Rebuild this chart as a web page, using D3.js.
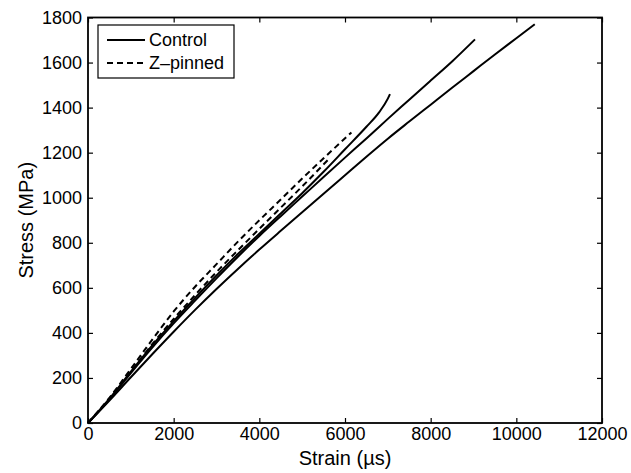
<!DOCTYPE html>
<html lang="en">
  <head>
    <meta charset="UTF-8" />
    <title>Stress vs strain</title>
    <script src="https://d3js.org/d3.v7.min.js"></script>
    <style>
      body { margin: 0; background: #fff; }
      text { font-family: "Liberation Sans", Arial, Helvetica, sans-serif; fill: #000; }
      .tick text { font-size: 18px; }
      .label { font-size: 20px; }
      .legend_text { font-size: 18px; }
    </style>
  </head>
  <body>
    <svg width="631" height="473"></svg>
    <script>
      // strain (microstrain), stress (MPa)
      const control1 = [[0,0],[500,100],[1000,203],[1500,305],[2000,405],[2500,502],[3000,595],[3500,684],[4000,770],[4500,853],[5000,935],[5500,1018],[6000,1100],[6500,1182],[7000,1262],[7500,1338],[8000,1413],[8500,1488],[9000,1562],[9500,1636],[10000,1708],[10430,1770]];
      const control2 = [[0,0],[500,105],[1000,222],[1500,335],[2000,442],[2500,543],[3000,642],[3500,738],[4000,830],[4500,918],[5000,1005],[5500,1092],[6000,1178],[6500,1263],[7000,1350],[7500,1435],[8000,1520],[8500,1605],[9035,1703]];
      const control3 = [[0,0],[500,108],[1000,228],[1500,345],[2000,452],[2500,555],[3000,655],[3500,750],[4000,840],[4500,930],[5000,1020],[5500,1115],[6000,1215],[6500,1315],[6800,1380],[7000,1440],[7050,1460]];
      const pinned1 = [[0,0],[500,112],[1000,240],[1500,370],[2000,495],[2500,605],[3000,705],[3500,805],[4000,900],[4500,992],[5000,1085],[5500,1175],[6150,1290]];
      const pinned2 = [[0,0],[500,108],[1000,228],[1500,350],[2000,462],[2500,568],[3000,670],[3500,767],[4000,862],[4500,956],[5000,1050],[5611,1170]];

      const xTicks = [0, 2000, 4000, 6000, 8000, 10000, 12000];
      const yTicks = [0, 200, 400, 600, 800, 1000, 1200, 1400, 1600, 1800];
      const legendNames = ["Control", "Z\u2013pinned"];

      const svg = d3.select("svg");
      const margin = { top: 17.5, right: 29, bottom: 50, left: 88 };
      const width = 631 - margin.left - margin.right,
        height = 473 - margin.top - margin.bottom;

      const g = svg.append("g").attr("transform", `translate(${margin.left},${margin.top})`);

      const x = d3.scaleLinear().domain([0, 12000]).range([0, width]);
      const y = d3.scaleLinear().domain([0, 1800]).range([height, 0]);

      // axes, ticks pointing inwards on all four sides
      const fmt = d3.format("d");
      g.append("g").attr("transform", `translate(0,${height})`)
        .call(d3.axisBottom(x).tickValues(xTicks).tickFormat(fmt).tickSize(-5).tickPadding(4));
      g.append("g")
        .call(d3.axisTop(x).tickValues(xTicks).tickFormat("").tickSize(-5));
      g.append("g")
        .call(d3.axisLeft(y).tickValues(yTicks).tickFormat(fmt).tickSize(-5).tickPadding(6));
      g.append("g").attr("transform", `translate(${width},0)`)
        .call(d3.axisRight(y).tickValues(yTicks).tickFormat("").tickSize(-5));
      g.selectAll(".domain").remove();
      g.selectAll(".tick line").attr("stroke", "#000").attr("stroke-width", 1.2);

      g.append("rect")
        .attr("width", width).attr("height", height)
        .attr("fill", "none").attr("stroke", "#000").attr("stroke-width", 1.8);

      // curves
      const line = d3.line()
        .x(d => x(d[0]))
        .y(d => y(d[1]))
        .curve(d3.curveMonotoneX);

      const series = [
        { data: control1, dash: null },
        { data: control2, dash: null },
        { data: control3, dash: null },
        { data: pinned1, dash: "6,4" },
        { data: pinned2, dash: "6,4" }
      ];
      g.selectAll(".curve").data(series).enter().append("path")
        .attr("class", "curve")
        .attr("d", d => line(d.data))
        .attr("fill", "none")
        .attr("stroke", "#000")
        .attr("stroke-width", 2)
        .attr("stroke-dasharray", d => d.dash);

      // legend
      const lg = svg.append("g").attr("transform", "translate(98,25)");
      lg.append("rect").attr("width", 136).attr("height", 53)
        .attr("fill", "#fff").attr("stroke", "#000").attr("stroke-width", 1.2);
      legendNames.forEach(function (name, i) {
        const yy = 15 + i * 23;
        lg.append("line").attr("x1", 9).attr("x2", 47).attr("y1", yy).attr("y2", yy)
          .attr("stroke", "#000").attr("stroke-width", 1.8)
          .attr("stroke-dasharray", i === 1 ? "6,4" : null);
        lg.append("text").attr("class", "legend_text")
          .attr("x", 51).attr("y", yy).attr("dy", "0.35em").text(name);
      });

      // axis labels
      svg.append("text").attr("class", "label")
        .attr("x", margin.left + width / 2).attr("y", 465)
        .attr("text-anchor", "middle").text("Strain (\u00b5s)");
      svg.append("text").attr("class", "label")
        .attr("transform", `translate(33,${margin.top + height / 2}) rotate(-90)`)
        .attr("text-anchor", "middle").text("Stress (MPa)");
    </script>
  </body>
</html>
